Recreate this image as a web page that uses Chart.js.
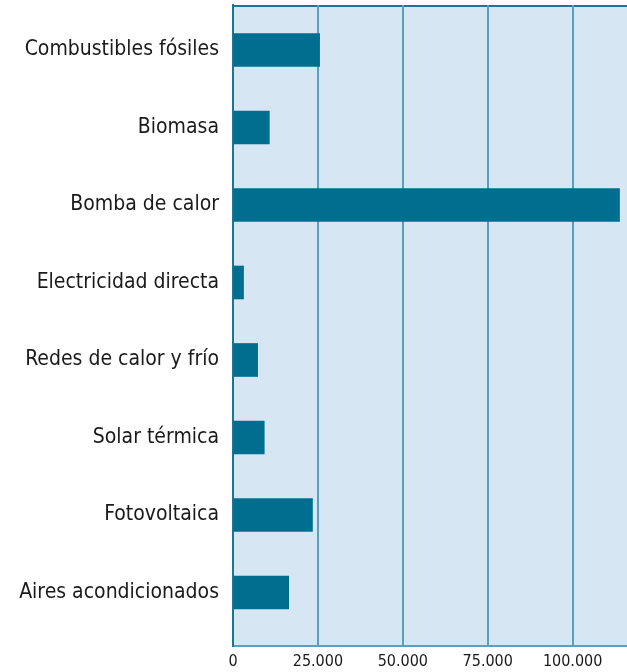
<!DOCTYPE html>
<html>
<head>
<meta charset="utf-8">
<script src="https://cdn.jsdelivr.net/npm/chart.js@4"></script>
<style>
  html, body { margin: 0; padding: 0; background: #fff; }
  #wrap { width: 627px; height: 672px; }
</style>
</head>
<body>
<div id="wrap"><canvas id="chart" width="627" height="672"></canvas></div>
<script>
  // categories, top to bottom
  const categories = [
    'Combustibles fósiles',
    'Biomasa',
    'Bomba de calor',
    'Electricidad directa',
    'Redes de calor y frío',
    'Solar térmica',
    'Fotovoltaica',
    'Aires acondicionados'
  ];
  const values = [25500, 10700, 113800, 3100, 7250, 9200, 23400, 16400];
  const xTicks = [0, 25000, 50000, 75000, 100000];

  const BAR = '#006e8f';
  const BG = '#d6e7f3';
  const GRID = '#5aa0be';
  const FONT = '"DejaVu Sans Condensed", "Liberation Sans Narrow", sans-serif';

  function fmt(v){ return String(v).replace(/\B(?=(\d{3})+(?!\d))/g, '.'); }

  // paint plot background + top rule
  const bgPlugin = {
    id: 'plotBg',
    beforeDraw(chart){
      const a = chart.chartArea, ctx = chart.ctx;
      ctx.save();
      ctx.fillStyle = BG;
      ctx.fillRect(a.left, a.top, a.right - a.left, a.bottom - a.top);
      ctx.strokeStyle = '#1f7393';
      ctx.lineWidth = 2;
      ctx.beginPath();
      ctx.moveTo(a.left, a.top + 1);
      ctx.lineTo(a.right, a.top + 1);
      ctx.stroke();
      ctx.restore();
    }
  };

  new Chart(document.getElementById('chart'), {
    type: 'bar',
    data: {
      datasets: [{
        data: values.map((v, i) => ({ x: v, y: i })),
        backgroundColor: BAR,
        borderWidth: 0,
        barThickness: 33
      }]
    },
    options: {
      indexAxis: 'y',
      responsive: false,
      animation: false,
      layout: { padding: { top: 5, right: 0, bottom: 0, left: 0 } },
      plugins: { legend: { display: false }, tooltip: { enabled: false } },
      scales: {
        x: {
          type: 'linear',
          min: 0,
          max: 116000,
          afterBuildTicks(scale){ scale.ticks = xTicks.map(v => ({ value: v })); },
          afterFit(scale){ scale.height = 26; scale.paddingLeft = 0; scale.paddingRight = 0; },
          grid: { color: GRID, lineWidth: 2, drawTicks: false },
          border: { color: GRID, width: 2 },
          ticks: {
            padding: 6,
            color: '#1a1a1a',
            font: { family: FONT, size: 16 },
            callback: v => fmt(v)
          }
        },
        y: {
          type: 'linear',
          reverse: true,
          offset: false,
          min: -0.58,
          max: 7.69,
          afterBuildTicks(scale){ scale.ticks = categories.map((c, i) => ({ value: i })); },
          afterFit(scale){ scale.width = 233; scale.paddingTop = 0; scale.paddingBottom = 0; },
          grid: { display: false, drawTicks: false, offset: false },
          border: { color: '#1f7393', width: 2 },
          ticks: {
            padding: 14,
            color: '#1a1a1a',
            font: { family: FONT, size: 21 },
            callback: v => categories[v] ?? ''
          }
        }
      }
    },
    plugins: [bgPlugin]
  });
</script>
</body>
</html>
